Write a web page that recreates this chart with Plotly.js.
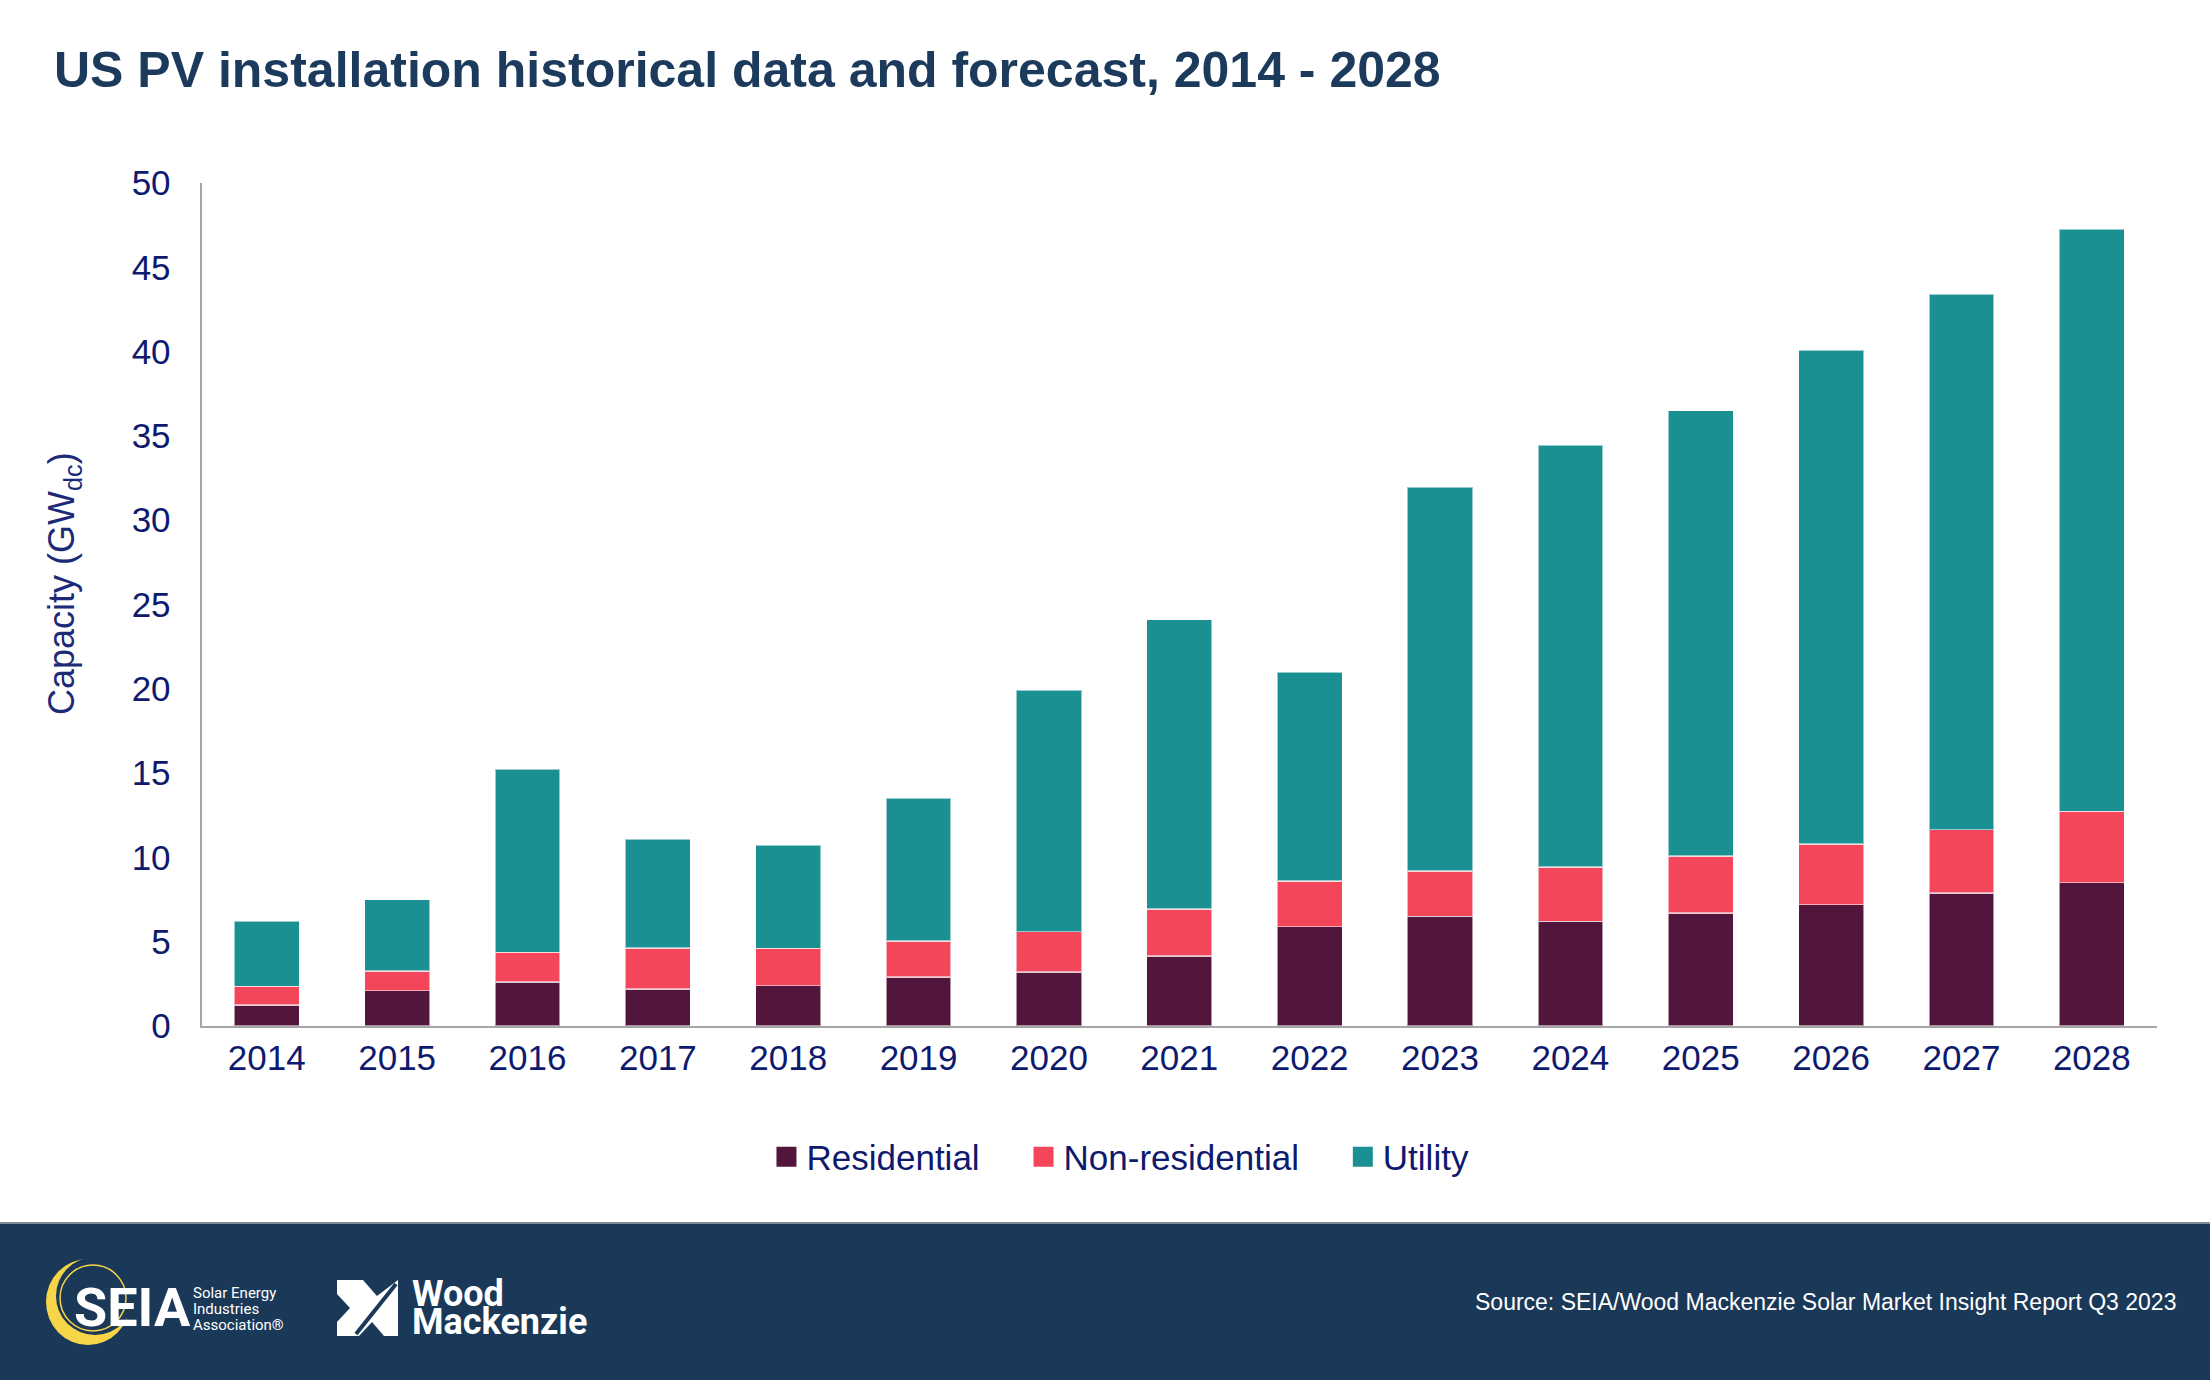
<!DOCTYPE html>
<html>
<head>
<meta charset="utf-8">
<script src="https://cdn.plot.ly/plotly-3.0.1.min.js"></script>
<style>
  html, body { margin: 0; padding: 0; background: #fff; }
  #chart { width: 2210px; height: 1380px; }
</style>
</head>
<body>
<div id="chart"></div>
<script>
const W = 2210, H = 1380;
const px = x => x / W;
const py = y => 1 - y / H;

// values (GWdc)
const years = ['2014', '2015', '2016', '2017', '2018', '2019', '2020', '2021',
  '2022', '2023', '2024', '2025', '2026', '2027', '2028'];
const residential = [1.25, 2.1, 2.6, 2.2, 2.4, 2.9, 3.2, 4.15, 5.9, 6.5, 6.2, 6.7, 7.2, 7.9, 8.5];
const nonResidential = [1.1, 1.17, 1.77, 2.43, 2.2, 2.15, 2.4, 2.78, 2.7, 2.7, 3.23, 3.38, 3.6, 3.75, 4.23];
const utility = [3.85, 4.23, 10.88, 6.45, 6.12, 8.47, 14.3, 17.17, 12.4, 22.75, 25.02, 26.42, 29.27, 31.75, 34.52];
const seriesNames = ['Residential', 'Non-residential', 'Utility'];
const seriesColors = ['#52163d', '#f4465b', '#1a9093'];

const FONT = 'Liberation Sans, Arial, sans-serif';
const LOGO_FONT = 'Roboto, Liberation Sans, sans-serif';
const NAVY = '#0e1a6e';
const FOOT = '#1a3857';
const PAD = '\u00a0\u00a0\u00a0\u00a0';

const seriesVals = [residential, nonResidential, utility];
const traces = seriesVals.map((vals, i) => ({
  type: 'bar',
  name: seriesNames[i],
  x: years,
  y: vals,
  marker: { color: seriesColors[i], line: { color: 'rgba(255,255,255,0.55)', width: 1.5 } },
  showlegend: false,
  hoverinfo: 'x+y+name',
}));
// legend-only entries, so the swatches can be larger than plotly's bar swatch
seriesNames.forEach((n, i) => traces.push({
  type: 'scatter', mode: 'markers', name: i < 2 ? n + PAD : n, x: [null], y: [null],
  marker: { symbol: 'square', size: 16, color: seriesColors[i], line: { color: seriesColors[i], width: 4 } },
  hoverinfo: 'skip',
}));

const toPath = pts => 'M' + pts.map(p => px(p[0]).toFixed(5) + ',' + py(p[1]).toFixed(5)).join('L') + 'Z';
const wmIcon = [[337, 1280], [363, 1280], [377, 1296], [398, 1280], [398, 1336],
  [384, 1336], [372, 1322], [359, 1336], [337, 1336], [337, 1322], [350, 1308], [337, 1294]];

const ann = (text, x, y, size, opts) => Object.assign({
  text, xref: 'paper', yref: 'paper', x: px(x), y: py(y), xanchor: 'left', yanchor: 'middle',
  showarrow: false, font: { family: FONT, size, color: '#fff' },
}, opts || {});

const layout = {
  width: W, height: H,
  margin: { l: 0, r: 0, t: 0, b: 0 },
  paper_bgcolor: '#fff', plot_bgcolor: '#fff',
  barmode: 'stack', bargap: 0.5,
  font: { family: FONT, color: NAVY },
  title: {
    text: 'US PV installation historical data and forecast, 2014 - 2028',
    xref: 'container', yref: 'container',
    x: px(54), xanchor: 'left', y: py(69), yanchor: 'middle',
    font: { family: FONT, size: 50, color: '#1b3a5c', weight: 'bold' },
  },
  xaxis: {
    type: 'category', domain: [px(201.6), px(2157)],
    showline: true, linecolor: '#a6a6a6', linewidth: 2,
    showgrid: false, ticks: '', ticklabelstandoff: 0,
    tickfont: { family: FONT, size: 35, color: NAVY },
    fixedrange: true,
  },
  yaxis: {
    domain: [py(1026), py(183)], range: [0, 50], tick0: 0, dtick: 5,
    showline: true, linecolor: '#a6a6a6', linewidth: 2,
    showgrid: false, zeroline: false, ticks: '', ticklabelstandoff: 22,
    tickfont: { family: FONT, size: 35, color: NAVY },
    fixedrange: true,
  },
  legend: {
    orientation: 'h', traceorder: 'normal',
    x: 0.507, xanchor: 'center', y: py(1157), yanchor: 'middle',
    font: { family: FONT, size: 35, color: NAVY },
    bgcolor: 'rgba(0,0,0,0)',
  },
  shapes: [
    { type: 'rect', xref: 'paper', yref: 'paper', x0: 0, x1: 1, y0: 0, y1: py(1223),
      fillcolor: FOOT, line: { width: 0 }, layer: 'below' },
    { type: 'line', xref: 'paper', yref: 'paper', x0: 0, x1: 1, y0: py(1223), y1: py(1223),
      line: { color: '#7d8a98', width: 2 } },
    // SEIA crescent
    { type: 'circle', xref: 'paper', yref: 'paper', x0: px(46), x1: px(130), y0: py(1345), y1: py(1259),
      fillcolor: '#f7d548', line: { width: 0 } },
    { type: 'circle', xref: 'paper', yref: 'paper', x0: px(56), x1: px(134), y0: py(1335), y1: py(1257),
      fillcolor: FOOT, line: { width: 0 } },
    { type: 'circle', xref: 'paper', yref: 'paper', x0: px(60), x1: px(126), y0: py(1331), y1: py(1265),
      fillcolor: 'rgba(0,0,0,0)', line: { color: '#f7d548', width: 1.5 } },
    // Wood Mackenzie mark
    { type: 'path', xref: 'paper', yref: 'paper', path: toPath(wmIcon), fillcolor: '#fff', line: { width: 0 } },
    { type: 'line', xref: 'paper', yref: 'paper', x0: px(356), y0: py(1334), x1: px(396), y1: py(1284),
      line: { color: FOOT, width: 4 } },
  ],
  annotations: [
    ann('Capacity (GW<sub>dc</sub>)', 64, 584, 36, {
      xanchor: 'center', textangle: -90, font: { family: FONT, size: 36, color: '#1c2a78' } }),
    ann('<b>SEIA</b>', 72, 1307, 54, { font: { family: LOGO_FONT, size: 54, color: '#fff' } }),
    ann('Solar Energy', 191, 1293, 15, { font: { family: LOGO_FONT, size: 15, color: '#fff' } }),
    ann('Industries', 191, 1309, 15, { font: { family: LOGO_FONT, size: 15, color: '#fff' } }),
    ann('Association®', 191, 1325, 15, { font: { family: LOGO_FONT, size: 15, color: '#fff' } }),
    ann('<b>Wood</b>', 410, 1294, 36, { font: { family: LOGO_FONT, size: 36, color: '#fff' } }),
    ann('<b>Mackenzie</b>', 410, 1322, 36, { font: { family: LOGO_FONT, size: 36, color: '#fff' } }),
    ann('Source: SEIA/Wood Mackenzie Solar Market Insight Report Q3 2023', 2178, 1302, 23,
      { xanchor: 'right' }),
  ],
};

Plotly.newPlot('chart', traces, layout, { displayModeBar: false, responsive: false });
</script>
</body>
</html>
